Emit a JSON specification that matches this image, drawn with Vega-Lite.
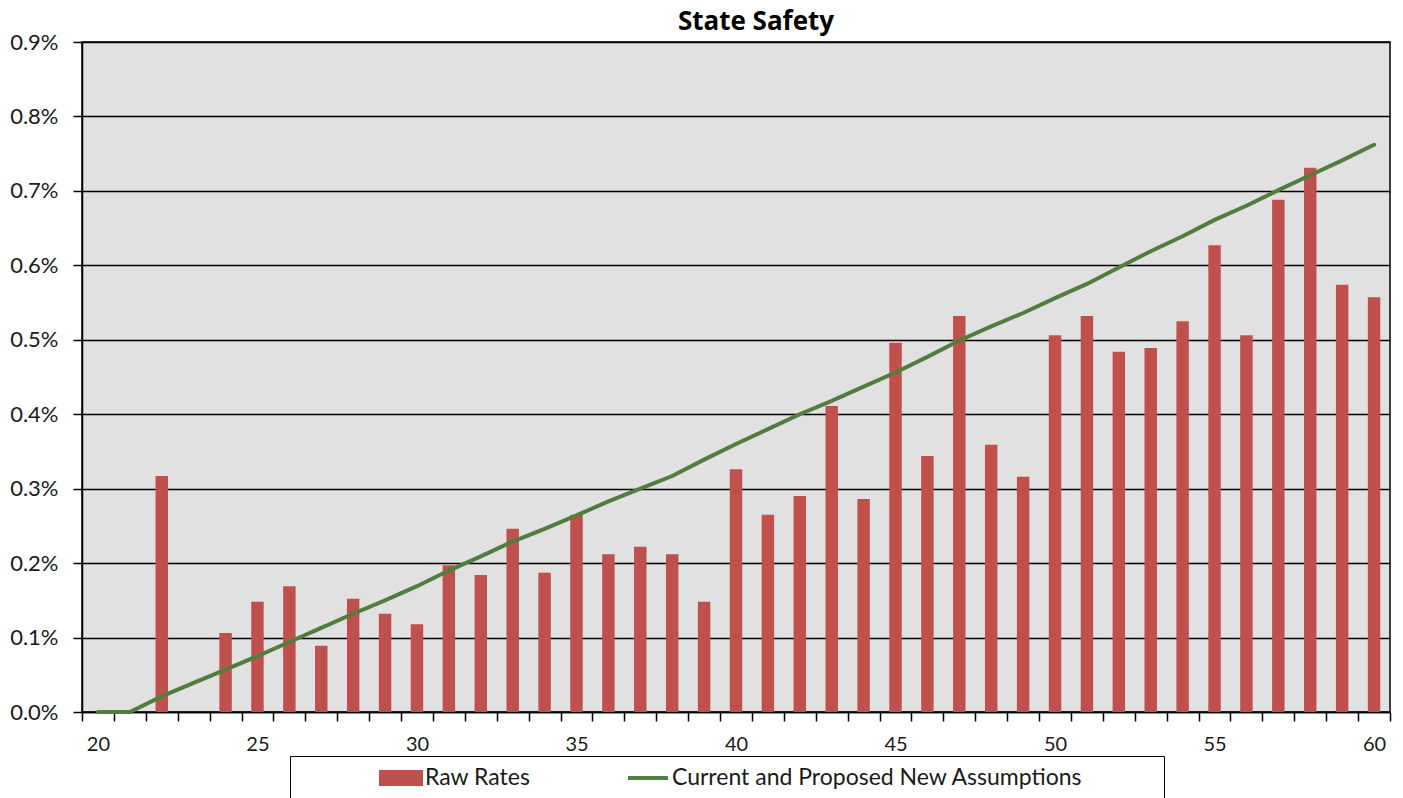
{
  "$schema": "https://vega.github.io/schema/vega-lite/v6.json",
  "width": 1308,
  "height": 670,
  "autosize": {"type": "none"},
  "padding": {"left": 82, "top": 42, "right": 13, "bottom": 86},
  "background": "white",
  "title": {
    "text": "State Safety",
    "font": "Open Sans",
    "fontSize": 26,
    "fontWeight": "bold",
    "color": "#000000",
    "anchor": "middle",
    "dx": 20,
    "offset": -4
  },
  "config": {
    "font": "Lato",
    "view": {"fill": "#E1E1E1", "stroke": "#000000", "strokeWidth": 1.5},
    "axis": {
      "labelFont": "Lato",
      "labelFontSize": 20,
      "labelColor": "#1a1a1a",
      "domainColor": "#000000",
      "domainWidth": 1.5,
      "tickColor": "#000000",
      "tickWidth": 1.5,
      "tickSize": 9,
      "title": null
    }
  },
  "data": {
    "values": [
      {"age": 20, "rate": null, "assumption": 0.0},
      {"age": 21, "rate": null, "assumption": 0.0},
      {"age": 22, "rate": 0.00317, "assumption": 0.00021},
      {"age": 23, "rate": null, "assumption": 0.00039},
      {"age": 24, "rate": 0.00106, "assumption": 0.00057},
      {"age": 25, "rate": 0.00148, "assumption": 0.00075},
      {"age": 26, "rate": 0.00169, "assumption": 0.00094},
      {"age": 27, "rate": 0.00089, "assumption": 0.00113},
      {"age": 28, "rate": 0.00152, "assumption": 0.00132},
      {"age": 29, "rate": 0.00132, "assumption": 0.0015},
      {"age": 30, "rate": 0.00118, "assumption": 0.00169},
      {"age": 31, "rate": 0.00197, "assumption": 0.0019},
      {"age": 32, "rate": 0.00184, "assumption": 0.00209},
      {"age": 33, "rate": 0.00246, "assumption": 0.00229},
      {"age": 34, "rate": 0.00187, "assumption": 0.00246},
      {"age": 35, "rate": 0.00265, "assumption": 0.00264},
      {"age": 36, "rate": 0.00212, "assumption": 0.00283},
      {"age": 37, "rate": 0.00222, "assumption": 0.003},
      {"age": 38, "rate": 0.00212, "assumption": 0.00317},
      {"age": 39, "rate": 0.00148, "assumption": 0.00339},
      {"age": 40, "rate": 0.00326, "assumption": 0.0036},
      {"age": 41, "rate": 0.00265, "assumption": 0.0038},
      {"age": 42, "rate": 0.0029, "assumption": 0.004},
      {"age": 43, "rate": 0.00411, "assumption": 0.00418},
      {"age": 44, "rate": 0.00286, "assumption": 0.00437},
      {"age": 45, "rate": 0.00496, "assumption": 0.00456},
      {"age": 46, "rate": 0.00344, "assumption": 0.00477},
      {"age": 47, "rate": 0.00532, "assumption": 0.00499},
      {"age": 48, "rate": 0.00359, "assumption": 0.00518},
      {"age": 49, "rate": 0.00316, "assumption": 0.00536},
      {"age": 50, "rate": 0.00506, "assumption": 0.00556},
      {"age": 51, "rate": 0.00532, "assumption": 0.00575},
      {"age": 52, "rate": 0.00484, "assumption": 0.00597},
      {"age": 53, "rate": 0.00489, "assumption": 0.00619},
      {"age": 54, "rate": 0.00525, "assumption": 0.00639},
      {"age": 55, "rate": 0.00627, "assumption": 0.00661},
      {"age": 56, "rate": 0.00506, "assumption": 0.0068},
      {"age": 57, "rate": 0.00688, "assumption": 0.00701},
      {"age": 58, "rate": 0.00731, "assumption": 0.00721},
      {"age": 59, "rate": 0.00574, "assumption": 0.00741},
      {"age": 60, "rate": 0.00557, "assumption": 0.00762}
    ]
  },
  "encoding": {
    "x": {
      "field": "age",
      "type": "ordinal",
      "sort": "ascending",
      "scale": {"paddingInner": 0, "paddingOuter": 0},
      "axis": {
        "labelAngle": 0,
        "tickBand": "extent",
        "labelPadding": 13,
        "labelExpr": "datum.value % 5 === 0 ? datum.label : ''",
        "grid": false
      }
    }
  },
  "layer": [
    {
      "transform": [{"filter": "datum.rate != null"}],
      "mark": {"type": "bar", "width": {"band": 0.39}},
      "encoding": {
        "y": {
          "field": "rate",
          "type": "quantitative",
          "scale": {"domain": [0, 0.009], "nice": false},
          "axis": {
            "values": [0, 0.001, 0.002, 0.003, 0.004, 0.005, 0.006, 0.007, 0.008, 0.009],
            "format": ".1%",
            "grid": true,
            "gridColor": "#000000",
            "gridWidth": 1.5,
            "labelFontSize": 22,
            "labelPadding": 15
          }
        },
        "color": {
          "datum": "Raw Rates",
          "type": "nominal",
          "scale": {
            "domain": ["Raw Rates", "Current and Proposed New Assumptions"],
            "range": ["#C0504D", "#527D3F"]
          },
          "legend": {
            "orient": "none",
            "legendX": 208,
            "legendY": 714,
            "direction": "horizontal",
            "title": " ",
            "titleOrient": "left",
            "titleFontSize": 1,
            "titlePadding": 79,
            "padding": 10,
            "clipHeight": 24,
            "strokeColor": "#000000",
            "fillColor": "#FFFFFF",
            "labelFont": "Lato",
            "labelFontSize": 23,
            "labelColor": "#1a1a1a",
            "labelOffset": 2,
            "columnPadding": 95,
            "symbolSize": 1600,
            "labelLimit": 900,
            "labelExpr": "datum.value === 'Raw Rates' ? datum.label : datum.label + '\u00a0\u00a0\u00a0\u00a0\u00a0\u00a0\u00a0\u00a0\u00a0\u00a0\u00a0\u00a0\u200b'",
            "encode": {
              "symbols": {
                "update": {
                  "shape": {"signal": "datum.value === 'Raw Rates' ? 'M-1,-0.3H1V0.3H-1Z' : 'stroke'"},
                  "fill": {"signal": "datum.value === 'Raw Rates' ? '#C0504D' : 'transparent'"},
                  "stroke": {"signal": "datum.value === 'Raw Rates' ? 'transparent' : '#527D3F'"},
                  "strokeWidth": {"value": 4},
                  "opacity": {"value": 1}
                }
              }
            }
          }
        }
      }
    },
    {
      "mark": {"type": "line", "strokeWidth": 4, "strokeCap": "round"},
      "encoding": {
        "y": {"field": "assumption", "type": "quantitative"},
        "color": {"datum": "Current and Proposed New Assumptions", "type": "nominal"}
      }
    }
  ]
}
